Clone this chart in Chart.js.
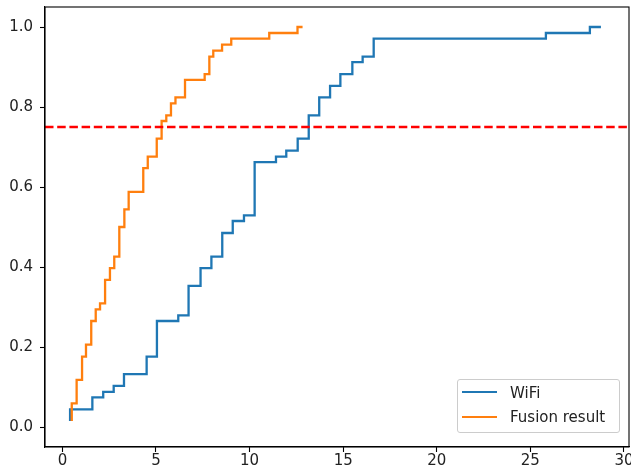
<!DOCTYPE html>
<html>
<head>
<meta charset="utf-8">
<script src="https://cdn.jsdelivr.net/npm/chart.js@4.4.1/dist/chart.umd.min.js"></script>
<style>
  html, body { margin: 0; padding: 0; background: #fff; }
  #wrap { position: relative; width: 631px; height: 470px; }
  #legend {
    position: absolute; left: 457px; top: 379px; width: 161px; height: 52px;
    border: 1px solid #ccc; border-radius: 3px; background: rgba(255,255,255,0.8);
    font-family: 'DejaVu Sans'; font-size: 15px; color: #222;
  }
  .swatch { position: absolute; left: 4px; width: 35px; height: 0; border-top: 2.3px solid; }
  .label { position: absolute; left: 52px; line-height: 18px; white-space: nowrap; }
</style>
</head>
<body>
<div id="wrap">
  <canvas id="myChart" width="631" height="470"></canvas>
  <div id="legend"></div>
</div>
<script>
// step CDF points (right end of each level)
const wifiX = [0.41, 1.60, 2.18, 2.74, 3.29, 4.50, 5.05, 6.19, 6.74, 7.38, 7.96, 8.54, 9.10, 9.70,
  10.27, 11.41, 11.96, 12.57, 13.16, 13.72, 14.30, 14.85, 15.49, 16.04, 16.63, 25.83, 28.18, 28.77];
const wifiY = [0.015, 0.044, 0.074, 0.088, 0.103, 0.132, 0.176, 0.265, 0.279, 0.353, 0.397, 0.426, 0.485, 0.515,
  0.529, 0.662, 0.676, 0.691, 0.721, 0.779, 0.824, 0.853, 0.882, 0.912, 0.926, 0.971, 0.985, 1.0];

const fusionX = [0.50, 0.76, 1.05, 1.26, 1.54, 1.78, 2.01, 2.28, 2.54, 2.77, 3.04, 3.31, 3.54, 4.32, 4.56,
  5.04, 5.30, 5.55, 5.80, 6.04, 6.55, 7.60, 7.85, 8.06, 8.53, 9.02, 11.05, 12.56, 12.83];
const fusionY = [0.015, 0.059, 0.118, 0.176, 0.206, 0.265, 0.294, 0.309, 0.368, 0.397, 0.426, 0.5, 0.544, 0.588, 0.647,
  0.676, 0.721, 0.765, 0.779, 0.809, 0.824, 0.868, 0.882, 0.926, 0.941, 0.956, 0.971, 0.985, 1.0];

const seriesNames = ['WiFi', 'Fusion result'];
const seriesColors = ['#1f77b4', '#ff7f0e'];
const thresholdY = 0.75;

const xTicks = [0, 5, 10, 15, 20, 25, 30];
const yTicks = [0.0, 0.2, 0.4, 0.6, 0.8, 1.0];
const xLim = [-0.93, 30.27];
const yLim = [-0.05, 1.05];

const toPoints = (xs, ys) => xs.map((x, i) => ({ x: x, y: ys[i] }));

const frame = {
  id: 'frame',
  afterDraw(chart) {
    const { ctx, chartArea: a } = chart;
    ctx.save();
    ctx.strokeStyle = '#000';
    ctx.lineWidth = 1.1;
    ctx.strokeRect(a.left, a.top, a.right - a.left, a.bottom - a.top);
    ctx.restore();
  }
};

const tickFont = { family: 'DejaVu Sans', size: 15 };

new Chart(document.getElementById('myChart').getContext('2d'), {
  type: 'line',
  data: {
    datasets: [
      {
        label: seriesNames[0], data: toPoints(wifiX, wifiY),
        borderColor: seriesColors[0], borderWidth: 2.3, stepped: 'after',
        pointRadius: 0, fill: false, order: 3
      },
      {
        label: seriesNames[1], data: toPoints(fusionX, fusionY),
        borderColor: seriesColors[1], borderWidth: 2.3, stepped: 'after',
        pointRadius: 0, fill: false, order: 2
      },
      {
        label: 'threshold', data: [{ x: xLim[0], y: thresholdY }, { x: xLim[1], y: thresholdY }],
        borderColor: '#ff0000', borderWidth: 2.3, borderDash: [8.5, 3.7],
        pointRadius: 0, fill: false, order: 1
      }
    ]
  },
  options: {
    responsive: false,
    animation: false,
    devicePixelRatio: 1,
    layout: { padding: { top: 7, right: 2, left: 0, bottom: 0 } },
    plugins: { legend: { display: false }, tooltip: { enabled: false } },
    scales: {
      x: {
        type: 'linear', min: xLim[0], max: xLim[1],
        afterBuildTicks: s => { s.ticks = xTicks.map(v => ({ value: v })); },
        afterFit: s => { s.height = 23; s.paddingLeft = 0; s.paddingRight = 0; },
        ticks: { font: tickFont, color: '#222', padding: 0, maxRotation: 0, callback: v => String(v) },
        grid: { drawOnChartArea: false, drawTicks: true, tickLength: 5, tickColor: '#000', tickWidth: 1.1 },
        border: { display: true, color: '#000', width: 1.1 }
      },
      y: {
        type: 'linear', min: yLim[0], max: yLim[1],
        afterBuildTicks: s => { s.ticks = yTicks.map(v => ({ value: v })); },
        afterFit: s => { s.width = 45; s.paddingTop = 0; s.paddingBottom = 0; },
        ticks: { font: tickFont, color: '#222', padding: 7, callback: v => v.toFixed(1) },
        grid: { drawOnChartArea: false, drawTicks: true, tickLength: 5, tickColor: '#000', tickWidth: 1.1 },
        border: { display: true, color: '#000', width: 1.1 }
      }
    }
  },
  plugins: [frame]
});

// legend inside the axes, lower right
const legend = document.getElementById('legend');
const rowCenters = [12.5, 37];
seriesNames.forEach((name, i) => {
  const sw = document.createElement('div');
  sw.className = 'swatch';
  sw.style.borderTopColor = seriesColors[i];
  sw.style.top = (rowCenters[i] - 1.15) + 'px';
  legend.appendChild(sw);
  const lb = document.createElement('div');
  lb.className = 'label';
  lb.style.top = (rowCenters[i] - 9) + 'px';
  lb.textContent = name;
  legend.appendChild(lb);
});
</script>
</body>
</html>
